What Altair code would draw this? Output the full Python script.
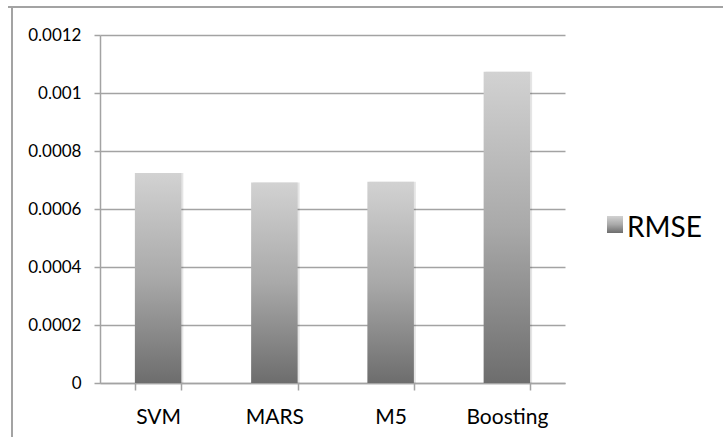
import altair as alt
import pandas as pd

# RMSE per regression model
models = ["SVM", "MARS", "M5", "Boosting"]
rmse = [0.000724, 0.000691, 0.000694, 0.001073]
y_ticks = [0, 0.0002, 0.0004, 0.0006, 0.0008, 0.001, 0.0012]
series_name = "RMSE"

df = pd.DataFrame({"model": models, "rmse": rmse})

FONT = "Lato"
LINE = "#a3a3a3"
W, H = 465, 348
PAD = {"left": 100, "top": 35, "right": 723 - 100 - W, "bottom": 437 - 35 - H}

bar_fill = alt.Gradient(
    gradient="linear",
    x1=0, y1=0, x2=0, y2=1,
    stops=[
        alt.GradientStop(color="#d2d2d2", offset=0),
        alt.GradientStop(color="#a9a9a9", offset=0.5),
        alt.GradientStop(color="#6d6d6d", offset=1),
    ],
)

x_enc = alt.X(
    "model:N",
    sort=models,
    scale=alt.Scale(paddingInner=0.6, paddingOuter=0.3),
    axis=alt.Axis(
        title=None,
        labelAngle=0,
        labelFont=FONT,
        labelFontSize=21,
        labelColor="#000000",
        labelPadding=16,
        tickBand="extent",
        tickSize=7,
        tickColor=LINE,
        tickWidth=1.5,
        domainColor=LINE,
        domainWidth=1.5,
        grid=False,
    ),
)
y_enc = alt.Y(
    "rmse:Q",
    scale=alt.Scale(domain=[0, 0.0012], nice=False, zero=True),
    axis=alt.Axis(
        title=None,
        values=y_ticks,
        format=".2~r",
        labelFont=FONT,
        labelFontSize=17,
        labelColor="#000000",
        labelPadding=13,
        tickSize=6,
        tickColor=LINE,
        tickWidth=1.5,
        domainColor=LINE,
        domainWidth=1.5,
        grid=True,
        gridColor=LINE,
        gridWidth=1.5,
    ),
)

# soft drop shadow to the right of each bar
shadow = alt.Chart(df).mark_bar(color="#000000", opacity=0.10, xOffset=2, x2Offset=2).encode(
    x=x_enc, y=y_enc
)
bars = alt.Chart(df).mark_bar(color=bar_fill).encode(x=x_enc, y=y_enc)

# legend: gradient swatch and series label
legend_df = pd.DataFrame({"label": [series_name]})
swatch = alt.Chart(legend_df).mark_rect(color=bar_fill).encode(
    x=alt.value(507), x2=alt.value(523), y=alt.value(181), y2=alt.value(198)
)
legend_text = alt.Chart(legend_df).mark_text(
    font=FONT, fontSize=28, align="left", baseline="alphabetic", color="#000000"
).encode(text="label:N", x=alt.value(527), y=alt.value(202))

# outer frame lines (top and left edges)
frame_top = alt.Chart(legend_df).mark_rule(color=LINE, strokeWidth=2).encode(
    x=alt.value(-92), x2=alt.value(623), y=alt.value(-28)
)
frame_left = alt.Chart(legend_df).mark_rule(color=LINE, strokeWidth=2).encode(
    x=alt.value(-88), y=alt.value(-28), y2=alt.value(402)
)

chart = (
    alt.layer(shadow, bars, swatch, legend_text, frame_top, frame_left)
    .properties(
        width=W,
        height=H,
        autosize=alt.AutoSizeParams(type="none"),
        padding=PAD,
        background="#ffffff",
    )
    .configure_view(stroke=None, clip=False)
)

chart.save("out.html", embed_options={"renderer": "svg", "actions": False})
